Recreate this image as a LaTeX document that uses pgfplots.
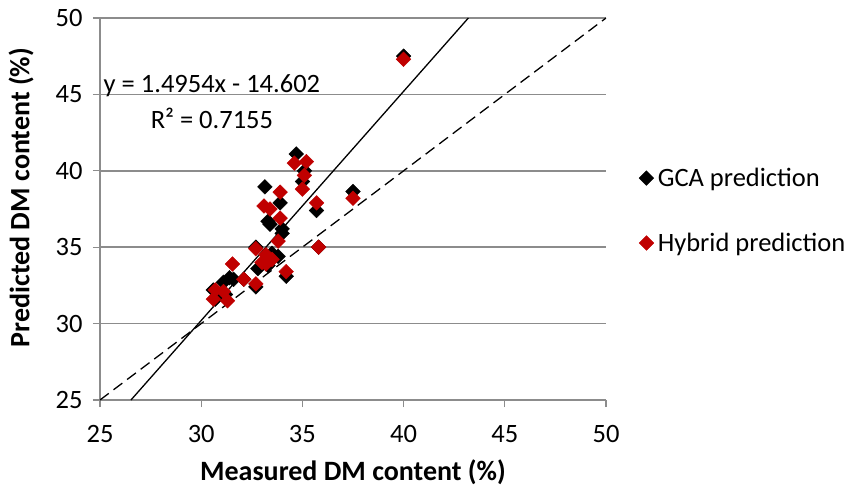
\documentclass[border=0pt]{standalone}
\usepackage{pgfplots}
\pgfplotsset{compat=1.18}
\usepackage{fontspec}
\setmainfont{Carlito}
\definecolor{hyb}{HTML}{C00000}
\definecolor{gridg}{HTML}{8C8C8C}
\begin{document}
\begin{tikzpicture}
\useasboundingbox (-100bp,-88bp) rectangle (749bp,400bp);
\begin{axis}[
  at={(0,0)}, anchor=south west,
  scale only axis, width=506bp, height=382bp,
  xmin=25, xmax=50, ymin=25, ymax=50,
  xtick={25,30,...,50}, ytick={25,30,...,50},
  axis x line*=bottom, axis y line*=left,
  axis line style={gridg, line width=1.2bp, -},
  tick style={gridg, line width=1.2bp},
  tick align=outside, major tick length=7bp,
  ymajorgrids, grid style={gridg, line width=1.5bp},
  /pgf/number format/assume math mode=true,
  tick label style={font=\fontsize{26.5bp}{30bp}\selectfont},
  xticklabel style={yshift=-15bp},
  yticklabel style={xshift=-7bp},
  xlabel={\textbf{Measured DM content (\%)}},
  ylabel={\textbf{Predicted DM content (\%)}},
  label style={font=\fontsize{28bp}{32bp}\selectfont},
  xlabel style={at={(axis description cs:0.5,-0.19)}, anchor=center},
  ylabel style={at={(axis description cs:-0.156,0.53)}, anchor=center},
  clip=true,
  legend style={draw=none, fill=none, at={(1.065,0.496)}, anchor=west,
    inner sep=0pt,
    font=\fontsize{26.5bp}{30bp}\selectfont, row sep=41bp,
    legend cell align=left, nodes={inner xsep=4bp}},
  legend image code/.code={\draw[#1] plot coordinates {(7bp,0cm)};},
]
\addplot[only marks, mark=square*, mark size=5.2bp, mark options={rotate=45, fill=black, draw=black}]
coordinates {
(40.0,47.5) (34.7,41.1) (35.1,40.0) (35.0,39.3) (33.15,38.95) (33.9,37.9)
(35.7,37.4) (37.5,38.65) (33.3,36.7) (33.4,36.5) (34.0,36.2) (34.0,35.9)
(33.8,34.4) (34.2,33.1) (32.8,33.6) (32.7,35.0) (33.2,34.2) (32.7,32.4)
(31.4,33.0) (31.1,32.7) (30.6,32.2) (30.7,31.6) (31.6,32.9) (33.3,33.8)
(35.8,35.0) (32.1,32.9) (31.2,31.9) (33.5,34.6)
};
\addlegendentry{GCA prediction}
\addplot[only marks, mark=square*, mark size=5.2bp, mark options={rotate=45, fill=hyb, draw=hyb}]
coordinates {
(40.0,47.3) (34.6,40.5) (35.2,40.6) (35.1,39.7) (35.0,38.8) (33.9,38.6)
(33.1,37.7) (33.4,37.5) (33.9,36.9) (33.8,35.4) (35.7,37.9) (37.5,38.2)
(35.8,35.0) (34.2,33.4) (31.55,33.9) (32.7,34.9) (33.2,34.5) (33.2,33.9)
(32.1,32.9) (32.7,32.6) (30.7,32.2) (31.1,32.1) (30.6,31.6) (31.3,31.5)
(33.0,34.0) (33.5,34.2)
};
\addlegendentry{Hybrid prediction}
\addplot[black, line width=1.3bp, forget plot] coordinates {(26.53,25) (43.2,50)};
\addplot[black, line width=1.3bp, dash pattern=on 11bp off 6bp, forget plot] coordinates {(25,25) (50,50)};
\node[font=\fontsize{26.5bp}{30bp}\selectfont] at (axis cs:30.53,45.6) {y = 1.4954x - 14.602};
\node[font=\fontsize{26.5bp}{30bp}\selectfont] at (axis cs:30.53,43.45) {R² = 0.7155};
\end{axis}
\end{tikzpicture}
\end{document}
